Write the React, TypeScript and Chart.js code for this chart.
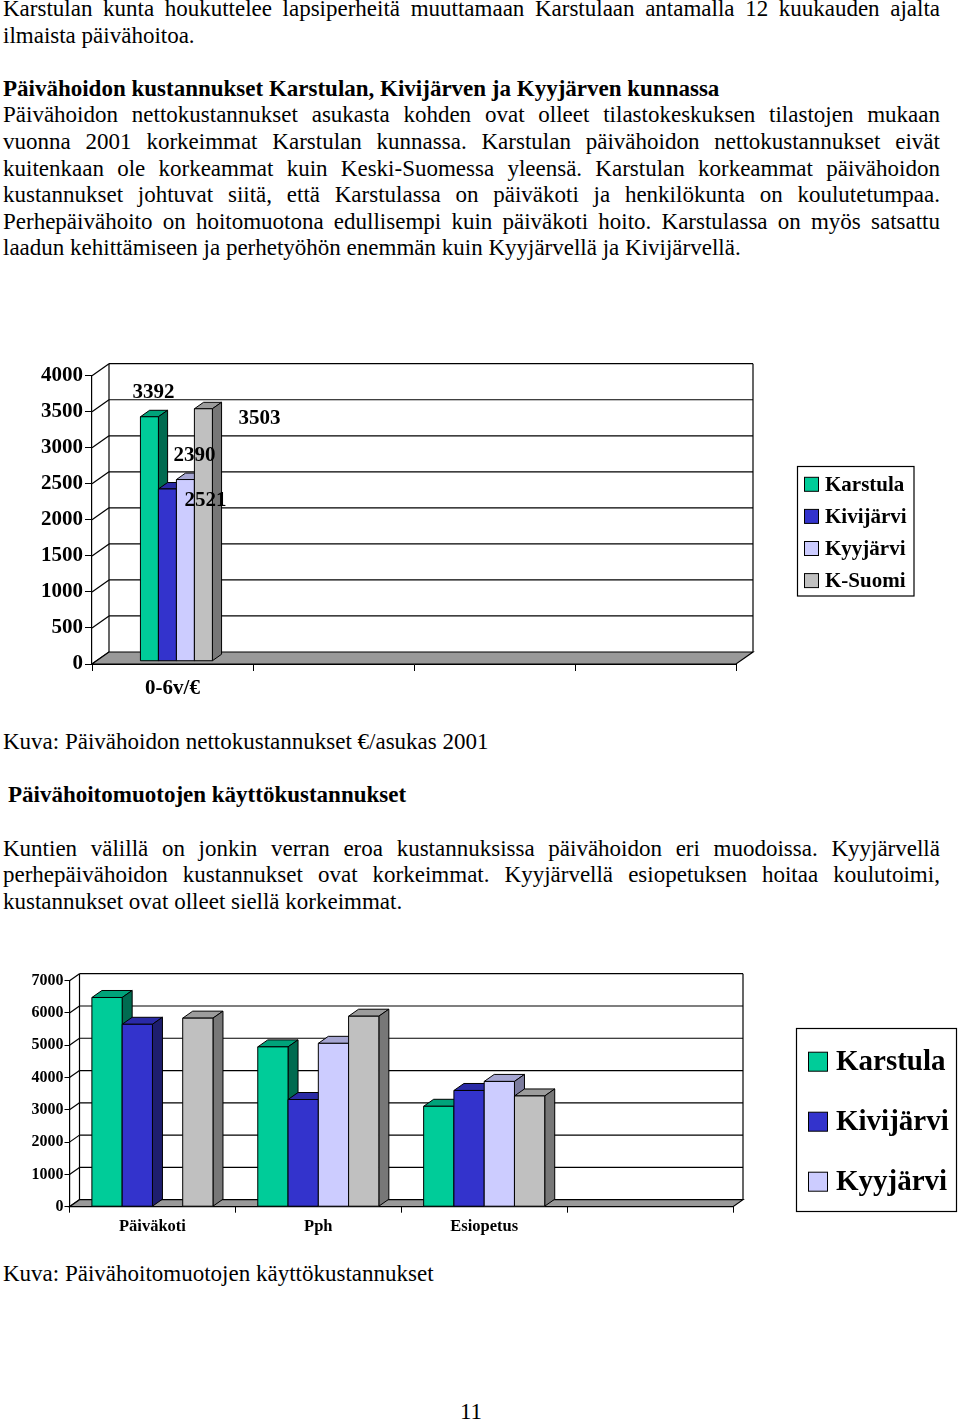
import React, { useEffect, useRef } from "react";
import { Chart, registerables } from "chart.js";

Chart.register(...registerables);

// ---------- data ----------
const SERIES = ["Karstula", "Kivijärvi", "Kyyjärvi", "K-Suomi"];
const FRONT_COLORS = ["#00CC99", "#3333CC", "#CCCCFF", "#C0C0C0"];
const TOP_COLORS = ["#00A37A", "#2A2AA6", "#A6A6D2", "#9C9C9C"];
const SIDE_COLORS = ["#006B50", "#1E1E6E", "#7C7C9E", "#777777"];

const NET_CATEGORIES = ["0-6v/€", "", "", ""];
const NET_KARSTULA = [3392, null, null, null];
const NET_KIVIJARVI = [2390, null, null, null];
const NET_KYYJARVI = [2521, null, null, null];
const NET_KSUOMI = [3503, null, null, null];
const NET_Y_MAX = 4000;
const NET_Y_STEP = 500;

const FORM_CATEGORIES = ["Päiväkoti", "Pph", "Esiopetus", ""];
const FORM_KARSTULA = [6480, 4950, 3110, null];
const FORM_KIVIJARVI = [5650, 3320, 3600, null];
const FORM_KYYJARVI = [null, 5060, 3880, null];
const FORM_KSUOMI = [5840, 5900, 3430, null];
const FORM_Y_MAX = 7000;
const FORM_Y_STEP = 1000;

// ---------- styling / layout ----------
const FONT = "'Liberation Serif', 'Times New Roman', serif";
const PAGE_W = 960;

type LegendSpec = {
  x1: number; y1: number; x2: number; y2: number;
  sq: number; sqX: number; y0: number; pitch: number; textX: number; font: number;
};

type ChartSpec = {
  top: number;
  height: number;
  categories: string[];
  series: (number | null)[][];
  yMax: number;
  yStep: number;
  area: { left: number; right: number; top: number; bottom: number };
  xAxisHeight: number;
  dx: number; dy: number; f0: number; f1: number;
  catPct: number;
  yFont: number; yTickLen: number; yPad: number;
  xFont: number; xTickLen: number; xPad: number;
  legend: LegendSpec;
  valueLabels?: { font: number; offsets: number[][] };
};

const NET_SPEC: ChartSpec = {
  top: 350,
  height: 360,
  categories: NET_CATEGORIES,
  series: [NET_KARSTULA, NET_KIVIJARVI, NET_KYYJARVI, NET_KSUOMI],
  yMax: NET_Y_MAX,
  yStep: NET_Y_STEP,
  area: { left: 92, right: 736, top: 25.7, bottom: 314 },
  xAxisHeight: 40,
  dx: 17, dy: 12, f0: 0.23, f1: 0.77,
  catPct: 0.447,
  yFont: 21, yTickLen: 7, yPad: 2,
  xFont: 21, xTickLen: 7, xPad: 5,
  legend: { x1: 797.5, y1: 116.5, x2: 914, y2: 246, sq: 14, sqX: 804.5, y0: 134.3, pitch: 32.1, textX: 825, font: 21 },
  valueLabels: { font: 21, offsets: [[4, -19], [27, -28], [20, 26], [56, 15]] },
};

const FORM_SPEC: ChartSpec = {
  top: 960,
  height: 280,
  categories: FORM_CATEGORIES,
  series: [FORM_KARSTULA, FORM_KIVIJARVI, FORM_KYYJARVI, FORM_KSUOMI],
  yMax: FORM_Y_MAX,
  yStep: FORM_Y_STEP,
  area: { left: 69.5, right: 733, top: 20.7, bottom: 246.7 },
  xAxisHeight: 30,
  dx: 10, dy: 7, f0: 0, f1: 1,
  catPct: 0.73,
  yFont: 16, yTickLen: 5, yPad: 1,
  xFont: 16.5, xTickLen: 6, xPad: 4.5,
  legend: { x1: 796.5, y1: 68.5, x2: 956.5, y2: 251.5, sq: 19, sqX: 808.5, y0: 101.7, pitch: 60, textX: 836, font: 29 },
};

function ThreeDChart({ spec }: { spec: ChartSpec }) {
  const ref = useRef<HTMLCanvasElement>(null);

  useEffect(() => {
    const s = spec;
    const plugin = {
      id: "threeD",
      beforeDatasetsDraw(chart: any) {
        const ctx: CanvasRenderingContext2D = chart.ctx;
        const a = chart.chartArea;
        const y = chart.scales.y;
        const { dx, dy, f0, f1 } = s;
        const line = (x1: number, y1: number, x2: number, y2: number) => {
          ctx.beginPath();
          ctx.moveTo(x1, y1);
          ctx.lineTo(x2, y2);
          ctx.stroke();
        };
        const poly = (pts: number[][], fill: string) => {
          ctx.beginPath();
          ctx.moveTo(pts[0][0], pts[0][1]);
          for (let i = 1; i < pts.length; i++) ctx.lineTo(pts[i][0], pts[i][1]);
          ctx.closePath();
          ctx.fillStyle = fill;
          ctx.fill();
          ctx.stroke();
        };
        ctx.save();
        ctx.lineWidth = 1.2;
        ctx.strokeStyle = "#000";
        // walls: side diagonals + back gridlines
        for (const t of y.ticks) {
          const py = y.getPixelForValue(t.value);
          line(a.left, py, a.left + dx, py - dy);
          if (t.value !== 0) line(a.left + dx, py - dy, a.right + dx, py - dy);
        }
        line(a.left + dx, a.top - dy, a.left + dx, a.bottom - dy);
        line(a.right + dx, a.top - dy, a.right + dx, a.bottom - dy);
        // floor
        poly(
          [
            [a.left, a.bottom],
            [a.right, a.bottom],
            [a.right + dx, a.bottom - dy],
            [a.left + dx, a.bottom - dy],
          ],
          "#999999"
        );
        // bars
        ctx.lineWidth = 1;
        const fx = f0 * dx, fy = f0 * dy;
        const bdx = (f1 - f0) * dx, bdy = (f1 - f0) * dy;
        const nCat = chart.data.labels.length;
        const nSet = chart.data.datasets.length;
        for (let c = 0; c < nCat; c++) {
          for (let d = 0; d < nSet; d++) {
            const v = chart.data.datasets[d].data[c];
            const el = chart.getDatasetMeta(d).data[c];
            if (v == null || !el) continue;
            const p = el.getProps(["x", "y", "base", "width"], true);
            const L = p.x - p.width / 2 + fx;
            const R = p.x + p.width / 2 + fx;
            const T = p.y - fy;
            const B = p.base - fy;
            poly([[L, T], [R, T], [R + bdx, T - bdy], [L + bdx, T - bdy]], TOP_COLORS[d]);
            poly([[R, T], [R + bdx, T - bdy], [R + bdx, B - bdy], [R, B]], SIDE_COLORS[d]);
            poly([[L, T], [R, T], [R, B], [L, B]], FRONT_COLORS[d]);
          }
        }
        ctx.restore();
        return false;
      },
      afterDraw(chart: any) {
        const ctx: CanvasRenderingContext2D = chart.ctx;
        ctx.save();
        // value labels
        if (s.valueLabels) {
          const vl = s.valueLabels;
          ctx.font = `bold ${vl.font}px ${FONT}`;
          ctx.fillStyle = "#000";
          ctx.textAlign = "center";
          ctx.textBaseline = "alphabetic";
          chart.data.datasets.forEach((ds: any, d: number) => {
            ds.data.forEach((v: number | null, c: number) => {
              if (v == null) return;
              const el = chart.getDatasetMeta(d).data[c];
              const p = el.getProps(["x", "y"], true);
              const off = vl.offsets[d];
              ctx.fillText(String(v), p.x + s.f0 * s.dx + off[0], p.y - s.f0 * s.dy + off[1]);
            });
          });
        }
        // legend
        const lg = s.legend;
        ctx.lineWidth = 1.2;
        ctx.strokeStyle = "#000";
        ctx.fillStyle = "#fff";
        ctx.fillRect(lg.x1, lg.y1, lg.x2 - lg.x1, lg.y2 - lg.y1);
        ctx.strokeRect(lg.x1, lg.y1, lg.x2 - lg.x1, lg.y2 - lg.y1);
        ctx.beginPath();
        ctx.rect(lg.x1 + 1, lg.y1 + 1, lg.x2 - lg.x1 - 2, lg.y2 - lg.y1 - 2);
        ctx.clip();
        ctx.lineWidth = 1;
        ctx.font = `bold ${lg.font}px ${FONT}`;
        ctx.textAlign = "left";
        ctx.textBaseline = "middle";
        chart.data.datasets.forEach((ds: any, d: number) => {
          const cy = lg.y0 + d * lg.pitch;
          ctx.fillStyle = ds.backgroundColor;
          ctx.fillRect(lg.sqX, cy - lg.sq / 2, lg.sq, lg.sq);
          ctx.strokeRect(lg.sqX, cy - lg.sq / 2, lg.sq, lg.sq);
          ctx.fillStyle = "#000";
          ctx.fillText(ds.label, lg.textX, cy + 1);
        });
        ctx.restore();
      },
    };

    const chart = new Chart(ref.current as HTMLCanvasElement, {
      type: "bar",
      data: {
        labels: s.categories,
        datasets: SERIES.map((name, i) => ({
          label: name,
          data: s.series[i],
          backgroundColor: FRONT_COLORS[i],
          borderColor: "#000",
          borderWidth: 1,
          barPercentage: 1,
          categoryPercentage: s.catPct,
        })),
      },
      options: {
        responsive: false,
        animation: false,
        devicePixelRatio: 1,
        layout: {
          padding: {
            left: 0,
            right: PAGE_W - s.area.right,
            top: s.area.top,
            bottom: s.height - s.area.bottom - s.xAxisHeight,
          },
        },
        plugins: {
          legend: { display: false },
          tooltip: { enabled: false },
        },
        scales: {
          x: {
            grid: {
              display: true,
              drawOnChartArea: false,
              drawTicks: true,
              tickLength: s.xTickLen,
              color: "#000",
              offset: true,
            },
            border: { display: true, color: "#000", width: 1 },
            ticks: {
              font: { family: FONT, size: s.xFont, weight: "bold" },
              color: "#000",
              padding: s.xPad,
              maxRotation: 0,
              autoSkip: false,
            },
            afterFit: (sc: any) => {
              sc.height = s.xAxisHeight;
            },
          },
          y: {
            min: 0,
            max: s.yMax,
            grid: {
              display: true,
              drawOnChartArea: false,
              drawTicks: true,
              tickLength: s.yTickLen,
              color: "#000",
            },
            border: { display: true, color: "#000", width: 1.2 },
            ticks: {
              stepSize: s.yStep,
              font: { family: FONT, size: s.yFont, weight: "bold" },
              color: "#000",
              padding: s.yPad,
              callback: (v: any) => String(v),
            },
            afterFit: (sc: any) => {
              sc.width = s.area.left;
            },
          },
        },
      } as any,
      plugins: [plugin as any],
    });
    return () => chart.destroy();
  }, [spec]);

  return (
    <canvas
      ref={ref}
      width={PAGE_W}
      height={spec.height}
      style={{ position: "absolute", left: 0, top: spec.top, display: "block" }}
    />
  );
}

// ---------- text ----------
const TEXT_SIZE = 23;
const LINE_H = 26.67;

function Line({
  baseline,
  text,
  justify = false,
  bold = false,
  left = 3,
  width = 937,
  align = "left",
}: {
  baseline: number;
  text: string;
  justify?: boolean;
  bold?: boolean;
  left?: number;
  width?: number;
  align?: "left" | "center";
}) {
  const off = (LINE_H - 1.107 * TEXT_SIZE) / 2 + 0.891 * TEXT_SIZE;
  const base: React.CSSProperties = {
    position: "absolute",
    left,
    top: baseline - off,
    width,
    fontSize: TEXT_SIZE,
    lineHeight: `${LINE_H}px`,
    fontWeight: bold ? "bold" : "normal",
    whiteSpace: "nowrap",
    textAlign: align,
  };
  if (justify) {
    const words = text.split(" ");
    return (
      <div style={{ ...base, display: "flex", justifyContent: "space-between" }}>
        {words.map((w, i) => (
          <span key={i}>{w}</span>
        ))}
      </div>
    );
  }
  return <div style={base}>{text}</div>;
}

const B0 = 17;
const PITCH = 26.62;

export default function App() {
  return (
    <div
      style={{
        position: "absolute",
        left: 0,
        top: 0,
        width: PAGE_W,
        height: 1423,
        background: "#fff",
        color: "#000",
        fontFamily: FONT,
        overflow: "hidden",
      }}
    >
      <Line baseline={B0} justify text="Karstulan kunta houkuttelee lapsiperheitä muuttamaan Karstulaan antamalla 12 kuukauden ajalta" />
      <Line baseline={B0 + PITCH} text="ilmaista päivähoitoa." />
      <Line baseline={B0 + 3 * PITCH} bold text="Päivähoidon kustannukset Karstulan, Kivijärven ja Kyyjärven kunnassa" />
      <Line baseline={B0 + 4 * PITCH} justify text="Päivähoidon nettokustannukset asukasta kohden ovat olleet tilastokeskuksen tilastojen mukaan" />
      <Line baseline={B0 + 5 * PITCH} justify text="vuonna 2001 korkeimmat Karstulan kunnassa. Karstulan päivähoidon nettokustannukset eivät" />
      <Line baseline={B0 + 6 * PITCH} justify text="kuitenkaan ole korkeammat kuin Keski-Suomessa yleensä. Karstulan korkeammat päivähoidon" />
      <Line baseline={B0 + 7 * PITCH} justify text="kustannukset johtuvat siitä, että Karstulassa on päiväkoti ja henkilökunta on koulutetumpaa." />
      <Line baseline={B0 + 8 * PITCH} justify text="Perhepäivähoito on hoitomuotona edullisempi kuin päiväkoti hoito. Karstulassa on myös satsattu" />
      <Line baseline={B0 + 9 * PITCH} text="laadun kehittämiseen ja perhetyöhön enemmän kuin Kyyjärvellä ja Kivijärvellä." />

      <ThreeDChart spec={NET_SPEC} />

      <Line baseline={750} text="Kuva: Päivähoidon nettokustannukset €/asukas 2001" />
      <Line baseline={803.3} left={8} bold text="Päivähoitomuotojen käyttökustannukset" />
      <Line baseline={856.7} justify text="Kuntien välillä on jonkin verran eroa kustannuksissa päivähoidon eri muodoissa. Kyyjärvellä" />
      <Line baseline={883.3} justify text="perhepäivähoidon kustannukset ovat korkeimmat. Kyyjärvellä esiopetuksen hoitaa koulutoimi," />
      <Line baseline={910} text="kustannukset ovat olleet siellä korkeimmat." />

      <ThreeDChart spec={FORM_SPEC} />

      <Line baseline={1281.7} text="Kuva: Päivähoitomuotojen käyttökustannukset" />
      <Line baseline={1420} left={0} width={942} align="center" text="11" />
    </div>
  );
}
